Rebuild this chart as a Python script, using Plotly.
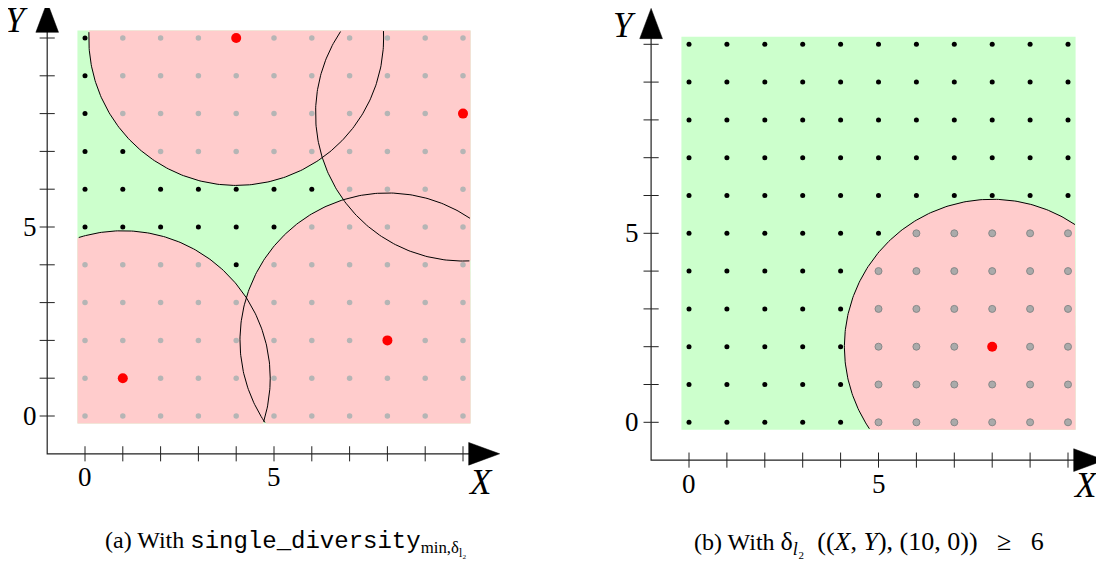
import numpy as np
import plotly.graph_objects as go

# ---- data ----
grid_x = list(range(11))
grid_y = list(range(11))
centers_a_x = [1, 4, 8, 10]
centers_a_y = [1, 10, 2, 8]
centers_b_x = [8]
centers_b_y = [2]
radius = 3.9
label_ticks = [0, 5]
label_text = ["0", "5"]

RECT = (-0.2, 10.2)
GREEN = "#ccffcc"
PINK = "#ffcccc"
SERIF = "Liberation Serif"
OFF = 8  # page body margin in the browser

fig = go.Figure()

def add_panel(xa, ya, cx_list, cy_list, grey_style, xlab_y, ylab_x, Ypos, Xpos):
    lo, hi = RECT
    xr, yr = xa, ya
    fig.add_shape(type="rect", xref=xr, yref=yr, x0=lo, x1=hi, y0=lo, y1=hi,
                  fillcolor=GREEN, line=dict(width=0), layer="below")
    th = np.linspace(0, 2 * np.pi, 400)
    for cx, cy in zip(cx_list, cy_list):
        px = np.clip(cx + radius * np.cos(th), lo, hi)
        py = np.clip(cy + radius * np.sin(th), lo, hi)
        fig.add_trace(go.Scatter(x=px, y=py, xaxis=xr, yaxis=yr, mode="lines",
                                 fill="toself", fillcolor=PINK, line=dict(width=0),
                                 hoverinfo="skip", showlegend=False))
    for cx, cy in zip(cx_list, cy_list):
        px = cx + radius * np.cos(th)
        py = cy + radius * np.sin(th)
        inside = (px >= lo) & (px <= hi) & (py >= lo) & (py <= hi)
        ox = [float(a) if m else None for a, m in zip(px, inside)]
        oy = [float(b) if m else None for b, m in zip(py, inside)]
        fig.add_trace(go.Scatter(x=ox, y=oy, xaxis=xr, yaxis=yr, mode="lines",
                                 line=dict(color="black", width=1), connectgaps=False,
                                 hoverinfo="skip", showlegend=False))
    gx, gy = np.meshgrid(grid_x, grid_y)
    gx = gx.ravel(); gy = gy.ravel()
    d = np.min([np.hypot(gx - cx, gy - cy) for cx, cy in zip(cx_list, cy_list)], axis=0)
    covered = d <= radius
    fig.add_trace(go.Scatter(x=gx[~covered], y=gy[~covered], xaxis=xr, yaxis=yr, mode="markers",
                             marker=dict(color="black", size=5), showlegend=False))
    fig.add_trace(go.Scatter(x=gx[covered], y=gy[covered], xaxis=xr, yaxis=yr, mode="markers",
                             marker=grey_style, showlegend=False))
    fig.add_trace(go.Scatter(x=cx_list, y=cy_list, xaxis=xr, yaxis=yr, mode="markers",
                             marker=dict(color="red", size=10), showlegend=False))
    axc = "#222222"
    fig.add_trace(go.Scatter(x=[-1, -1, 10.2], y=[10.2, -1, -1], xaxis=xr, yaxis=yr, mode="lines",
                             line=dict(color=axc, width=1.2), hoverinfo="skip", showlegend=False))
    tx, ty = [], []
    for v in grid_x:
        tx += [v, v, None]; ty += [-1.2, -0.8, None]
    for v in grid_y:
        tx += [-1.2, -0.8, None]; ty += [v, v, None]
    fig.add_trace(go.Scatter(x=tx, y=ty, xaxis=xr, yaxis=yr, mode="lines",
                             line=dict(color=axc, width=1), hoverinfo="skip", showlegend=False))
    fig.add_trace(go.Scatter(x=[-1.3, -0.7, -1, -1.3], y=[10.15, 10.15, 10.95, 10.15], xaxis=xr, yaxis=yr,
                             mode="lines", fill="toself", fillcolor="black", line=dict(color="black", width=0.5),
                             hoverinfo="skip", showlegend=False))
    fig.add_trace(go.Scatter(x=[10.15, 10.15, 10.97, 10.15], y=[-1.3, -0.7, -1, -1.3], xaxis=xr, yaxis=yr,
                             mode="lines", fill="toself", fillcolor="black", line=dict(color="black", width=0.5),
                             hoverinfo="skip", showlegend=False))
    for v, t in zip(label_ticks, label_text):
        fig.add_annotation(x=v, y=xlab_y, xref=xr, yref=yr, text=t, showarrow=False,
                           font=dict(family=SERIF, size=27, color="black"))
        fig.add_annotation(x=ylab_x, y=v, xref=xr, yref=yr, text=t, showarrow=False,
                           font=dict(family=SERIF, size=27, color="black"))
    fig.add_annotation(x=Ypos[0], y=Ypos[1], xref=xr, yref=yr, text="<i>Y</i>", showarrow=False,
                       font=dict(family=SERIF, size=35, color="black"))
    fig.add_annotation(x=Xpos[0], y=Xpos[1], xref=xr, yref=yr, text="<i>X</i>", showarrow=False,
                       font=dict(family=SERIF, size=35, color="black"))

add_panel("x", "y", centers_a_x, centers_a_y,
          dict(color="#b5b5b5", size=5.5), -1.62, -1.45, (-1.8, 10.46), (10.45, -1.75))
add_panel("x2", "y2", centers_b_x, centers_b_y,
          dict(color="#aaaaaa", size=7, line=dict(color="#888888", width=1)), -1.62, -1.5,
          (-1.7, 10.5), (10.45, -1.66))

W, H = 1104, 566
S = 37.8

def xr_(lo, hi, p0, s):
    return [(lo - p0) / s, (hi - p0) / s]

def yr_(top, bot, p0, s):
    return [(p0 - bot) / s, (p0 - top) / s]

L_X0, L_Y0 = 85 - OFF, 416 - OFF
R_X0, R_Y0 = 689 - OFF, 422.3 - OFF
PB = 530
fig.update_layout(
    width=W, height=H, margin=dict(l=0, r=0, t=0, b=0),
    plot_bgcolor="white", paper_bgcolor="white", showlegend=False,
    xaxis=dict(domain=[0, 540 / W], range=xr_(0, 540, L_X0, S), visible=False),
    yaxis=dict(domain=[1 - PB / H, 1], range=yr_(0, PB, L_Y0, S), visible=False),
    xaxis2=dict(domain=[560 / W, 1], range=xr_(560, W, R_X0, 37.9), visible=False),
    yaxis2=dict(domain=[1 - PB / H, 1], range=yr_(0, PB, R_Y0, S), visible=False),
)

NB = "\u00a0"
cap_y = 1 - (543 - OFF) / H
fig.add_annotation(x=(285 - OFF) / W, y=cap_y, xref="paper", yref="paper", showarrow=False,
                   xanchor="center", yanchor="middle",
                   text="(a) With <span style='font-family:Liberation Mono'>single_diversity</span>"
                        "<sub>min,δ<sub>l₂</sub></sub>",
                   font=dict(family=SERIF, size=24, color="black"))
fig.add_annotation(x=(692 - OFF) / W, y=cap_y, xref="paper", yref="paper", showarrow=False,
                   xanchor="left", yanchor="middle",
                   text="(b) With <span style='font-size:26px'>δ<sub><i>l</i>₂</sub>" + NB * 2 +
                        "((<i>X</i>," + NB + "<i>Y</i>)," + NB + "(10," + NB + "0))" + NB * 3 +
                        "≥" + NB * 3 + "6</span>",
                   font=dict(family=SERIF, size=24, color="black"))

fig.write_html("out.html")
